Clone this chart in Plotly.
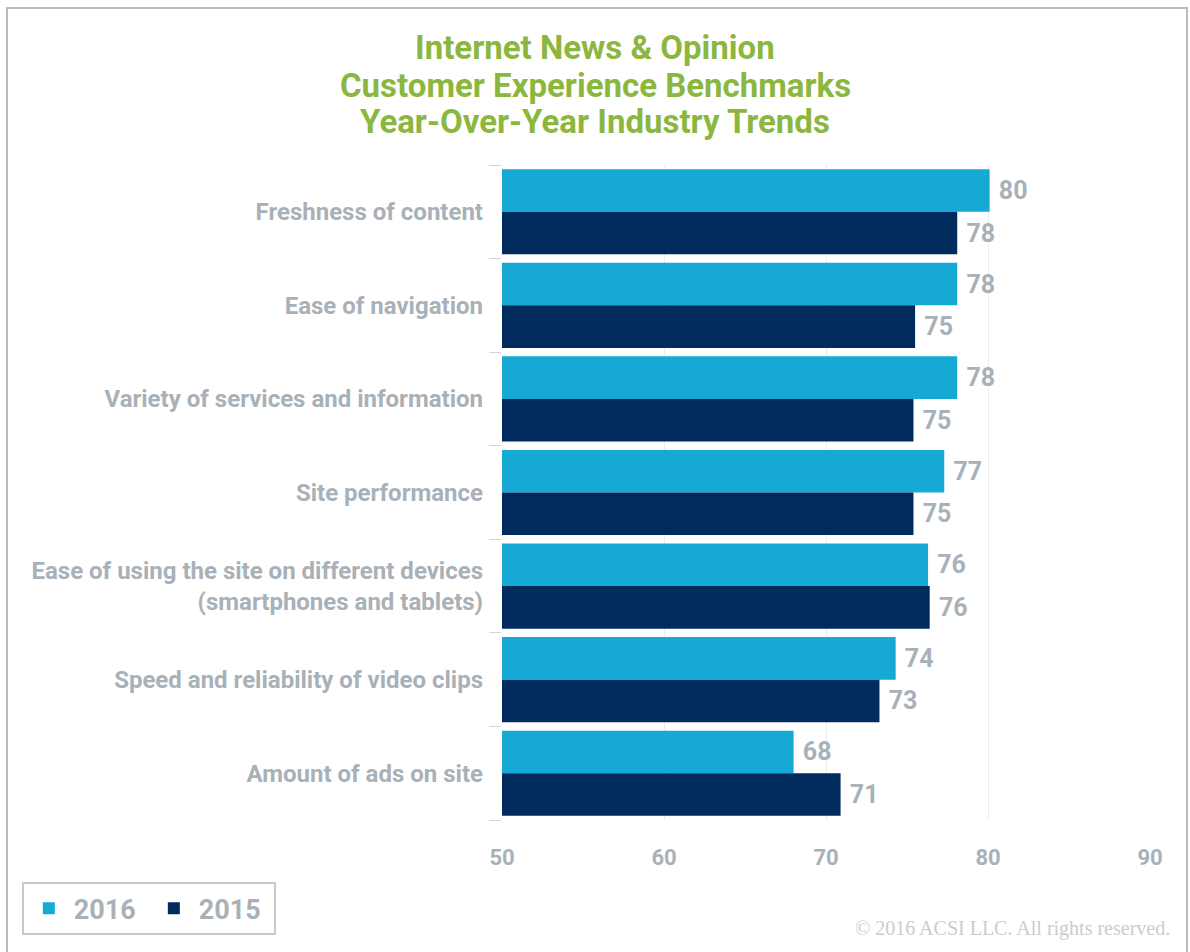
import plotly.graph_objects as go

categories = [
    "Freshness of content",
    "Ease of navigation",
    "Variety of services and information",
    "Site performance",
    "Ease of using the site on different devices<br>(smartphones and tablets)",
    "Speed and reliability of video clips",
    "Amount of ads on site",
]
values_2016 = [80.1, 78.1, 78.1, 77.3, 76.3, 74.3, 68.0]
values_2015 = [78.1, 75.5, 75.4, 75.4, 76.4, 73.3, 70.9]
labels_2016 = ["80", "78", "78", "77", "76", "74", "68"]
labels_2015 = ["78", "75", "75", "75", "76", "73", "71"]
x_ticks = [50, 60, 70, 80, 90]
title_lines = [
    "Internet News & Opinion",
    "Customer Experience Benchmarks",
    "Year-Over-Year Industry Trends",
]

FONT = "Roboto, Liberation Sans, sans-serif"
GRAY = "#a8b1b8"
C2016 = "#16a9d6"
C2015 = "#002b5c"

ypos = list(range(len(categories)))

def tf(size, color=GRAY):
    return dict(family=FONT, size=size, color=color, weight="bold")

fig = go.Figure()
fig.add_trace(go.Bar(
    name="2016", y=ypos, x=values_2016, orientation="h",
    marker=dict(color=C2016, line=dict(width=0)),
    text=["\u00a0" + t for t in labels_2016], textposition="outside", cliponaxis=False,
    textfont=tf(25),
))
fig.add_trace(go.Bar(
    name="2015", y=ypos, x=values_2015, orientation="h",
    marker=dict(color=C2015, line=dict(width=0)),
    text=["\u00a0" + t for t in labels_2015], textposition="outside", cliponaxis=False,
    textfont=tf(25),
))

fig.update_layout(
    template="none",
    width=1190, height=952,
    paper_bgcolor="white", plot_bgcolor="white",
    margin=dict(l=502, r=40, t=165, b=132, autoexpand=False),
    barmode="group", bargap=0.09, bargroupgap=0,
    font=dict(family=FONT, color=GRAY),
    xaxis=dict(
        range=[50, 90], tickvals=x_ticks, showgrid=True, gridcolor="#ececec", gridwidth=1,
        zeroline=False, showline=False, ticks="", automargin=False,
        tickfont=tf(22),
        ticklabelstandoff=22,
    ),
    yaxis=dict(
        range=[6.5, -0.5], tickvals=ypos, ticktext=categories, showgrid=False,
        zeroline=False, showline=False, ticks="", automargin=False,
        tickfont=tf(24),
        ticklabelstandoff=18,
        minor=dict(ticks="outside", tick0=-0.5, dtick=1, ticklen=12, tickcolor="#d0d4d8", tickwidth=1),
    ),
    legend=dict(
        orientation="h", x=-0.741, y=-0.095, xanchor="left", yanchor="top",
        bordercolor="#c5cacf", borderwidth=2, bgcolor="white",
        font=tf(27),
        itemwidth=40, entrywidth=70,
    ),
    showlegend=True,
)

title_y = [48, 85, 121]
for line, yp in zip(title_lines, title_y):
    fig.add_annotation(
        text=line, xref="paper", yref="paper",
        x=(595 - 502) / 648, y=(820 - yp) / 655, xanchor="center", yanchor="middle",
        showarrow=False, font=tf(33, "#8cb73f"),
    )

fig.add_annotation(
    text="© 2016 ACSI LLC. All rights reserved.", xref="paper", yref="paper",
    x=(1172 - 502) / 648, y=(820 - 928) / 655, xanchor="right", yanchor="middle", showarrow=False,
    font=dict(family="Liberation Serif, serif", size=20, color="#c8cdd2"),
)

fig.add_shape(
    type="rect", xref="paper", yref="paper",
    x0=(7 - 502) / 648, x1=(1187 - 502) / 648, y0=(820 - 960) / 655, y1=(820 - 8) / 655,
    line=dict(color="#b8bcc0", width=2), fillcolor="rgba(0,0,0,0)", layer="below",
)

fig.write_html("out.html", config={"displayModeBar": False},
               post_script="document.body.style.margin='0';")
